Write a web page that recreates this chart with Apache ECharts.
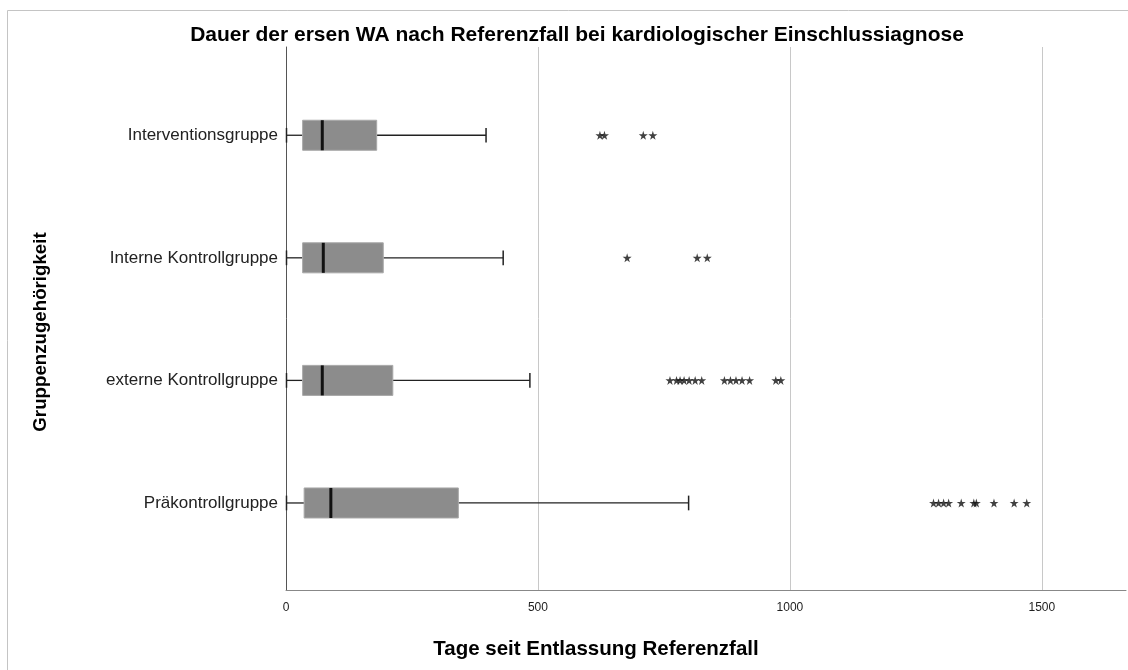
<!DOCTYPE html>
<html>
<head>
<meta charset="utf-8">
<script src="https://cdn.jsdelivr.net/npm/echarts@6/dist/echarts.min.js"></script>
<style>
html,body{margin:0;padding:0;background:#fff;}
#chart{width:1128px;height:670px;}
</style>
</head>
<body>
<div id="chart"></div>
<script>
// Categories (top to bottom)
var categories = ['Interventionsgruppe', 'Interne Kontrollgruppe', 'externe Kontrollgruppe', 'Präkontrollgruppe'];
// Box statistics per category: [min, Q1, median, Q3, max]
var boxMin    = [0, 0, 0, 0];
var boxQ1     = [33, 33, 33, 36];
var boxMedian = [72, 74, 72, 89];
var boxQ3     = [180, 193, 212, 342];
var boxMax    = [397, 431, 484, 799];
// Outliers per category
var outliersIntervention = [623, 632, 709, 728];
var outliersIntern = [677, 816, 836];
var outliersExtern = [762, 775, 782, 790, 800, 812, 825, 870, 882, 893, 905, 920, 972, 982];
var outliersPrae = [1285, 1295, 1305, 1315, 1340, 1365, 1370, 1405, 1445, 1470];
// X axis ticks
var xTicks = [0, 500, 1000, 1500];

var outlierLists = [outliersIntervention, outliersIntern, outliersExtern, outliersPrae];
var boxData = categories.map(function (c, i) {
  return [i, boxMin[i], boxQ1[i], boxMedian[i], boxQ3[i], boxMax[i]];
});
var outlierData = [];
outlierLists.forEach(function (list, i) {
  list.forEach(function (v) { outlierData.push([v, i]); });
});

var starPath = 'path://M50,0 L61,35 L98,35 L68,57 L79,91 L50,70 L21,91 L32,57 L2,35 L39,35 Z';

var chart = echarts.init(document.getElementById('chart'));
chart.setOption({
  animation: false,
  backgroundColor: '#ffffff',
  title: [{
    text: 'Dauer der ersen WA nach Referenzfall bei kardiologischer Einschlussiagnose',
    left: 572, top: 20, textAlign: 'center',
    textStyle: {fontFamily: 'Liberation Sans', fontSize: 21, fontWeight: 'bold', color: '#000'}
  }, {
    text: 'Tage seit Entlassung Referenzfall',
    left: 591, top: 634, textAlign: 'center',
    textStyle: {fontFamily: 'Liberation Sans', fontSize: 20.5, fontWeight: 'bold', color: '#000'}
  }],
  graphic: [{
    type: 'rect', silent: true, z: -10,
    shape: {x: 7.5, y: 10.5, width: 1140, height: 680},
    style: {fill: 'none', stroke: '#c4c4c4', lineWidth: 1}
  }, {
    type: 'text', silent: true,
    x: 41, y: 332, rotation: Math.PI / 2,
    style: {
      text: 'Gruppenzugehörigkeit',
      fontFamily: 'Liberation Sans', fontSize: 18.7, fontWeight: 'bold', fill: '#000',
      align: 'center', verticalAlign: 'middle'
    }
  }],
  grid: {left: 286, right: 2, top: 47, bottom: 80},
  xAxis: {
    type: 'value', min: 0, max: 1667, interval: 500,
    axisLine: {show: true, onZero: false, lineStyle: {color: '#888', width: 1}},
    axisTick: {show: false},
    axisLabel: {
      customValues: xTicks,
      formatter: function (v) { return String(v); },
      fontFamily: 'Liberation Sans', fontSize: 12, color: '#222', margin: 12
    },
    splitLine: {show: true, showMaxLine: false, lineStyle: {color: '#c8c8c8', width: 1}}
  },
  yAxis: {
    type: 'value', inverse: true, min: -0.72, max: 3.71,
    axisLine: {show: true, lineStyle: {color: '#555', width: 1}},
    axisTick: {show: false},
    splitLine: {show: false},
    axisLabel: {
      customValues: [0, 1, 2, 3],
      formatter: function (v) { return categories[Math.round(v)]; },
      fontFamily: 'Liberation Sans', fontSize: 17, color: '#222', margin: 8
    }
  },
  series: [{
    type: 'custom',
    data: boxData,
    encode: {x: [1, 2, 3, 4, 5], y: 0},
    renderItem: function (params, api) {
      var cat = api.value(0);
      var band = api.size([0, 1])[1];
      var pMin = api.coord([api.value(1), cat]);
      var pQ1 = api.coord([api.value(2), cat]);
      var pMed = api.coord([api.value(3), cat]);
      var pQ3 = api.coord([api.value(4), cat]);
      var pMax = api.coord([api.value(5), cat]);
      var cy = pMin[1];
      var bh = band * 0.245;
      var ch = band * 0.12;
      var ws = {stroke: '#222', lineWidth: 1.3};
      return {
        type: 'group',
        children: [
          {type: 'line', shape: {x1: pMin[0], y1: cy, x2: pQ1[0], y2: cy}, style: ws},
          {type: 'line', shape: {x1: pQ3[0], y1: cy, x2: pMax[0], y2: cy}, style: ws},
          {type: 'line', shape: {x1: pMin[0] + 0.5, y1: cy - ch / 2, x2: pMin[0] + 0.5, y2: cy + ch / 2}, style: {stroke: '#222', lineWidth: 1.5}},
          {type: 'line', shape: {x1: pMax[0], y1: cy - ch / 2, x2: pMax[0], y2: cy + ch / 2}, style: {stroke: '#222', lineWidth: 1.5}},
          {type: 'rect', shape: {x: pQ1[0], y: cy - bh / 2, width: pQ3[0] - pQ1[0], height: bh},
            style: {fill: '#8c8c8c', stroke: '#a8a8a8', lineWidth: 1}},
          {type: 'line', shape: {x1: pMed[0], y1: cy - bh / 2, x2: pMed[0], y2: cy + bh / 2},
            style: {stroke: '#111', lineWidth: 3}}
        ]
      };
    },
    z: 3
  }, {
    type: 'scatter',
    data: outlierData,
    symbol: starPath,
    symbolSize: 9,
    itemStyle: {color: '#111'},
    z: 4
  }]
});
</script>
</body>
</html>
